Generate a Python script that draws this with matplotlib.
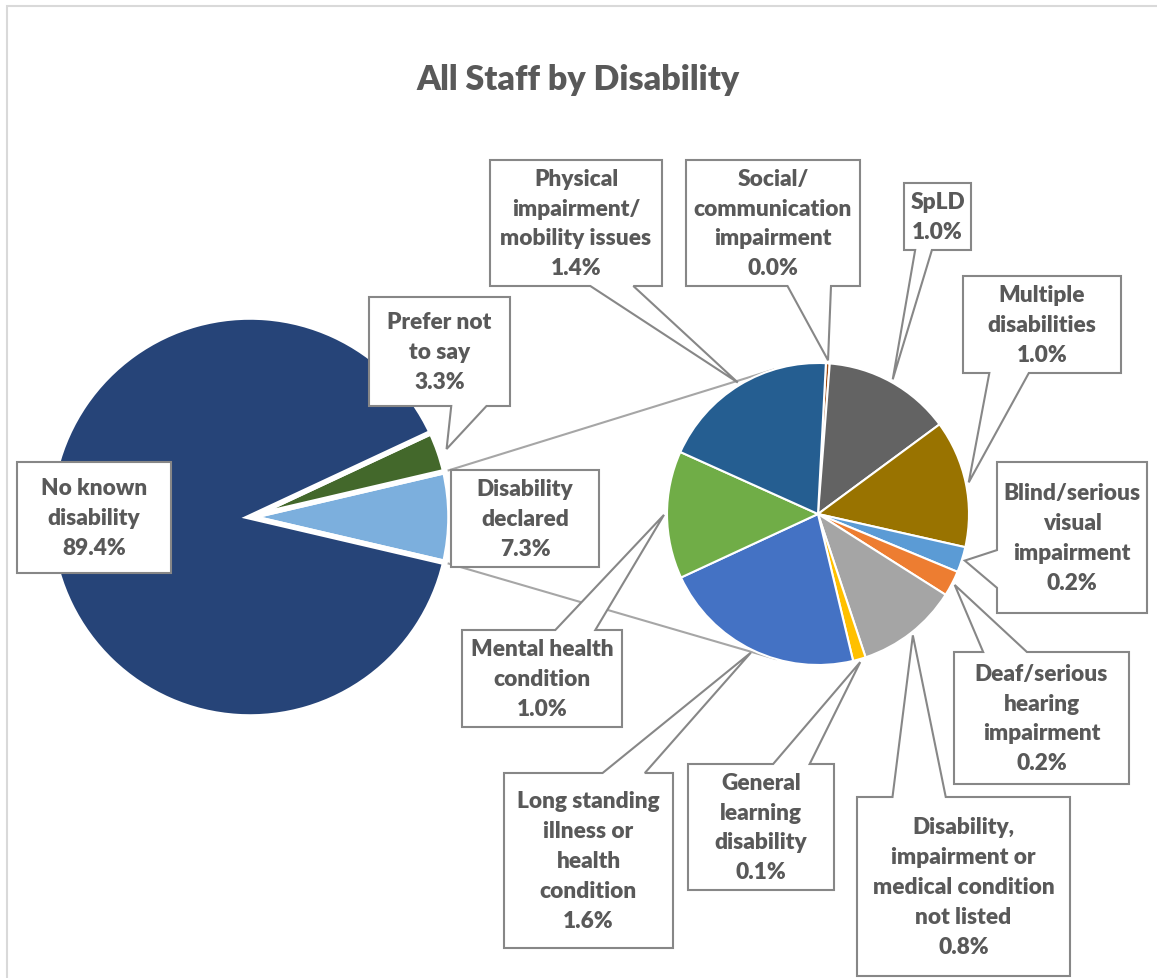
import numpy as np
import matplotlib
matplotlib.use("Agg")
import matplotlib.pyplot as plt
from matplotlib.patches import Polygon, Rectangle

plt.rcParams['font.family'] = ['Lato', 'DejaVu Sans']

# figure size in pixels
W, H = 1157, 979

# outer pie: all staff
outer_labels = ["Disability\ndeclared", "Prefer not\nto say", "No known\ndisability"]
outer_values = [7.3, 3.3, 89.4]
outer_colors = ["#7CAFDD", "#43682B", "#264478"]

# inner pie: breakdown of "Disability declared"
inner_labels = [
    "Social/\ncommunication\nimpairment",
    "SpLD",
    "Multiple\ndisabilities",
    "Blind/serious\nvisual\nimpairment",
    "Deaf/serious\nhearing\nimpairment",
    "Disability,\nimpairment or\nmedical condition\nnot listed",
    "General\nlearning\ndisability",
    "Long standing\nillness or\nhealth\ncondition",
    "Mental health\ncondition",
    "Physical\nimpairment/\nmobility issues",
]
inner_values = [0.03, 1.0, 1.0, 0.2, 0.2, 0.8, 0.1, 1.6, 1.0, 1.4]
inner_colors = ["#9E480E", "#636363", "#997300", "#5B9BD5", "#ED7D31",
                "#A5A5A5", "#FFC000", "#4472C4", "#70AD47", "#255E91"]

# label boxes (screen pixels: x0, y0, x1, y1)
outer_boxes = [(451, 471, 599, 568), (369, 298, 510, 407), (17, 463, 171, 574)]
inner_boxes = [
    (686, 161, 860, 287),
    (904, 184, 971, 251),
    (963, 277, 1121, 374),
    (997, 463, 1147, 614),
    (954, 653, 1129, 785),
    (857, 798, 1070, 977),
    (688, 765, 834, 891),
    (504, 774, 673, 949),
    (462, 631, 622, 728),
    (490, 161, 662, 287),
]

TXT = "#595959"
BOX_EDGE = "#878787"
WEIGHT = "heavy"


def sy(y):
    # screen y (down) -> data y (up)
    return H - y


def callout(ax, box, tip, text):
    x0, y0, x1, y1 = box
    tx, ty = tip
    if x0 <= tx <= x1 and y0 <= ty <= y1:
        pts = [(x0, y0), (x1, y0), (x1, y1), (x0, y1)]
    else:
        w, h = x1 - x0, y1 - y0
        hc, vc = (x0 + x1) / 2, (y0 + y1) / 2
        dxp, dyp = tx - hc, ty - vc
        if abs(dxp * h) > abs(dyp * w):
            g1, g2 = (7, 10) if dyp > 0 else (2, 5)
            b1, b2 = y0 + h * g1 / 12, y0 + h * g2 / 12
            if dxp > 0:
                pts = [(x0, y0), (x1, y0), (x1, b1), (tx, ty), (x1, b2), (x1, y1), (x0, y1)]
            else:
                pts = [(x0, y0), (x1, y0), (x1, y1), (x0, y1), (x0, b2), (tx, ty), (x0, b1)]
        else:
            g1, g2 = (7, 10) if dxp > 0 else (2, 5)
            b1, b2 = x0 + w * g1 / 12, x0 + w * g2 / 12
            if dyp < 0:
                pts = [(x0, y0), (b1, y0), (tx, ty), (b2, y0), (x1, y0), (x1, y1), (x0, y1)]
            else:
                pts = [(x0, y0), (x1, y0), (x1, y1), (b2, y1), (tx, ty), (b1, y1), (x0, y1)]
    poly = Polygon([(x, sy(y)) for x, y in pts], closed=True, facecolor="white",
                   edgecolor=BOX_EDGE, linewidth=1.5, joinstyle="miter", zorder=5)
    ax.add_patch(poly)
    ax.text((x0 + x1) / 2, sy((y0 + y1) / 2), text, ha="center", va="center",
            ma="center", fontsize=16.3, fontweight=WEIGHT, color=TXT,
            linespacing=1.52, zorder=6)


def tip_of(wedge, r_scale=1.02):
    th = np.deg2rad((wedge.theta1 + wedge.theta2) / 2)
    cx, cy = wedge.center
    r = wedge.r * r_scale
    return cx + r * np.cos(th), H - (cy + r * np.sin(th))


fig = plt.figure(figsize=(W / 100, H / 100), dpi=100)
ax = fig.add_axes([0, 0, 1, 1])

# chart area border
ax.add_patch(Rectangle((7, -10), W + 20, sy(7) + 10, fill=False,
                       edgecolor="#D9D9D9", linewidth=1.5, zorder=0))

# left pie
left_c, left_r = (250, sy(518)), 200
start = -0.5 * 360 * outer_values[0] / sum(outer_values)
w_out, _ = ax.pie(outer_values, colors=outer_colors, center=left_c, radius=left_r,
                  startangle=start, counterclock=True,
                  wedgeprops=dict(edgecolor="white", linewidth=4, zorder=2))

# right pie
right_c, right_r = (818, sy(515)), 151
w_in, _ = ax.pie(inner_values, colors=inner_colors, center=right_c, radius=right_r,
                 startangle=87, counterclock=False,
                 wedgeprops=dict(edgecolor="white", linewidth=1.5, zorder=2))

# connector lines from the split slice to the second pie (tangents)
dec = w_out[0]
for ang, sign in [(dec.theta2, 1), (dec.theta1, -1)]:
    px = left_c[0] + left_r * np.cos(np.deg2rad(ang))
    py = left_c[1] + left_r * np.sin(np.deg2rad(ang))
    vx, vy = px - right_c[0], py - right_c[1]
    d = np.hypot(vx, vy)
    phi = np.arctan2(vy, vx)
    t = phi - sign * np.arccos(right_r / d)
    qx = right_c[0] + right_r * np.cos(t)
    qy = right_c[1] + right_r * np.sin(t)
    ax.plot([px, qx], [py, qy], color="#A6A6A6", linewidth=1.5, zorder=1)

for wdg, lab, val, box in zip(w_out, outer_labels, outer_values, outer_boxes):
    callout(ax, box, tip_of(wdg, 1.04), f"{lab}\n{val:.1f}%")

for wdg, lab, val, box in zip(w_in, inner_labels, inner_values, inner_boxes):
    callout(ax, box, tip_of(wdg), f"{lab}\n{val:.1f}%")

ax.text(578, sy(80), "All Staff by Disability", ha="center", va="center",
        fontsize=24.5, fontweight=WEIGHT, color=TXT)

ax.set_xlim(0, W)
ax.set_ylim(0, H)
ax.set_aspect("auto")
ax.axis("off")

fig.savefig("out.png", dpi=100)
